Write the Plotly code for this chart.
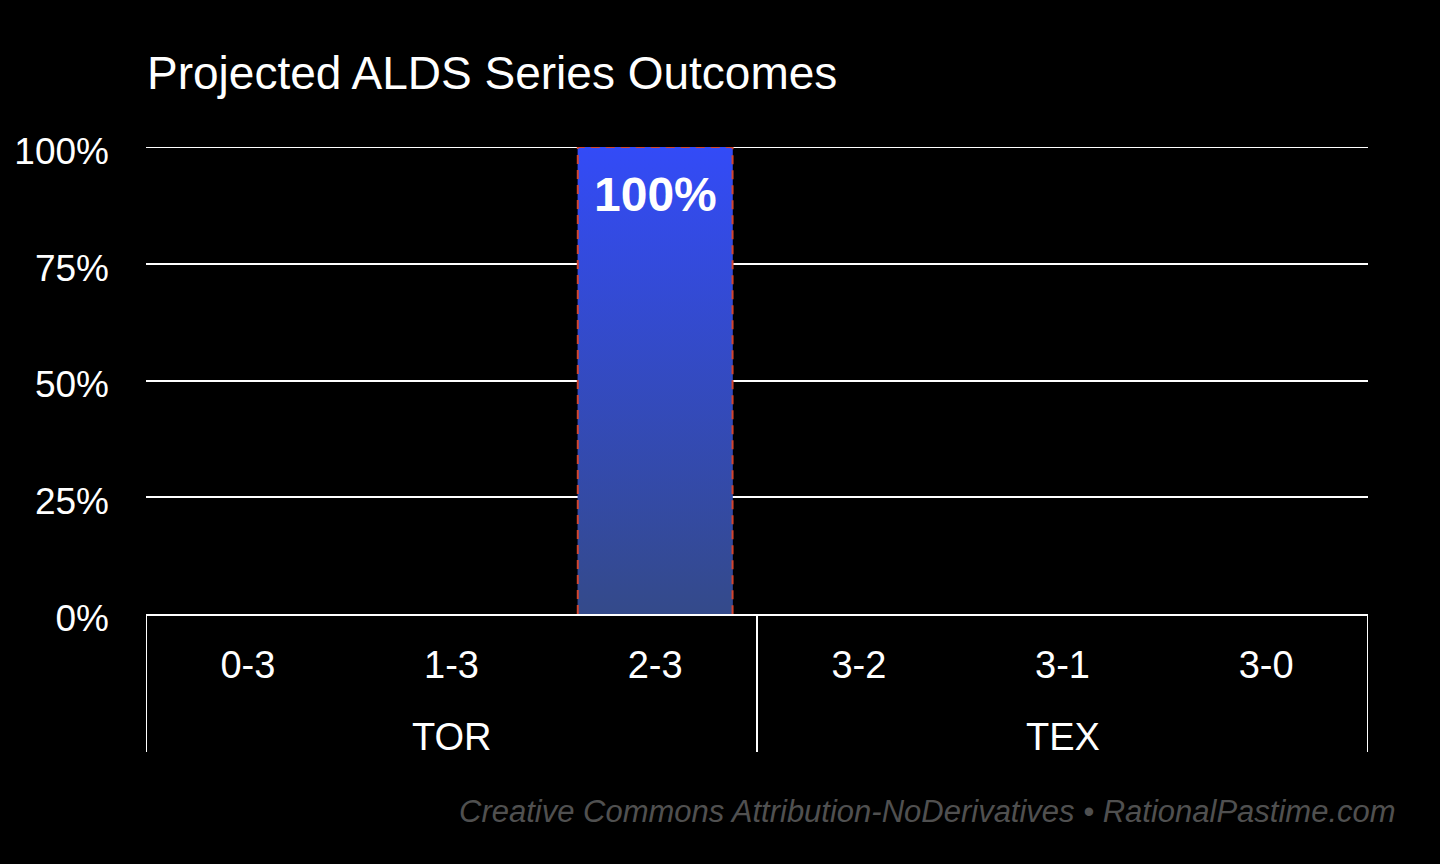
import plotly.graph_objects as go

# series data
teams = ["TOR", "TOR", "TOR", "TEX", "TEX", "TEX"]
outcomes = ["0-3", "1-3", "2-3", "3-2", "3-1", "3-0"]
probs = [0.0, 0.0, 1.0, 0.0, 0.0, 0.0]
y_ticks = [0, 0.25, 0.5, 0.75, 1.0]

title = "Projected ALDS Series Outcomes"
footer = "Creative Commons Attribution-NoDerivatives \u2022 RationalPastime.com"

FONT = "Liberation Sans, Arial, sans-serif"
BAR_W = 0.76
PLOT_H = 864 - 147 - 250  # px height of plot area, used for paper offsets

idx = list(range(len(outcomes)))

fig = go.Figure()

# plain bars underneath (fallback colour)
fig.add_trace(go.Bar(
    x=idx, y=probs, width=BAR_W,
    marker=dict(color="#3349C0", line=dict(width=0)),
    hoverinfo="skip", showlegend=False,
))

# gradient fill + dashed red outline (no bottom edge) over each non-zero bar
for i, p in zip(idx, probs):
    if p <= 0:
        continue
    x0, x1 = i - BAR_W / 2, i + BAR_W / 2
    fig.add_trace(go.Scatter(
        x=[x0, x0, x1, x1], y=[0, p, p, 0],
        mode="lines", fill="toself",
        fillgradient=dict(type="vertical", start=0, stop=p,
                          colorscale=[[0, "#344A8A"], [1, "#334BF7"]]),
        line=dict(color="#D2452E", width=2, dash="9px,6px"),
        hoverinfo="skip", showlegend=False,
    ))
    fig.add_annotation(
        x=i, y=p, text=f"<b>{p:.0%}</b>",
        showarrow=False, yanchor="top", yshift=-19,
        font=dict(family=FONT, size=48, color="white"),
    )

# top gridline (plotly drops the one sitting on the range edge)
fig.add_hline(y=y_ticks[-1], line=dict(color="white", width=2), layer="below")

# team group labels and dividers
groups = []
for i, t in enumerate(teams):
    if not groups or groups[-1][0] != t:
        groups.append([t, i, i])
    else:
        groups[-1][2] = i
bounds = [g[1] - 0.5 for g in groups] + [groups[-1][2] + 0.5]
for b in bounds:
    fig.add_shape(type="line", xref="x", yref="paper", x0=b, x1=b,
                  y0=0, y1=-138 / PLOT_H, line=dict(color="white", width=2))
for t, a, z in groups:
    fig.add_annotation(
        x=(a + z) / 2, y=-123 / PLOT_H, xref="x", yref="paper", text=t,
        showarrow=False, yanchor="middle",
        font=dict(family=FONT, size=38, color="white"),
    )

fig.add_annotation(
    x=(1398 - 146) / 1222, y=-197 / PLOT_H, xref="paper", yref="paper",
    text=footer, showarrow=False, xanchor="right", yanchor="middle",
    font=dict(family=FONT, size=31, color="#505050", style="italic"),
)

fig.update_layout(
    width=1440, height=864,
    paper_bgcolor="black", plot_bgcolor="black",
    margin=dict(l=146, r=72, t=147, b=250),
    title=dict(text=title, x=147 / 1440, xanchor="left", xref="container",
               y=1 - 73 / 864, yanchor="middle",
               font=dict(family=FONT, size=46, color="white")),
    font=dict(family=FONT, color="white"),
    xaxis=dict(range=[-0.5, len(outcomes) - 0.5], tickvals=idx, ticktext=outcomes,
               showline=True, linecolor="white", linewidth=2,
               showgrid=False, zeroline=False, ticks="", ticklabelstandoff=16,
               tickfont=dict(family=FONT, size=38, color="white")),
    yaxis=dict(range=[0, 1], tickvals=y_ticks, tickformat=".0%",
               showgrid=True, gridcolor="white", gridwidth=2,
               zeroline=False, ticks="", ticklabelstandoff=36, ticklabelshift=4,
               tickfont=dict(family=FONT, size=37, color="white")),
)

fig.write_html(
    "out.html",
    config={"displayModeBar": False},
    post_script="document.body.style.margin='0';document.body.style.background='black';",
)
